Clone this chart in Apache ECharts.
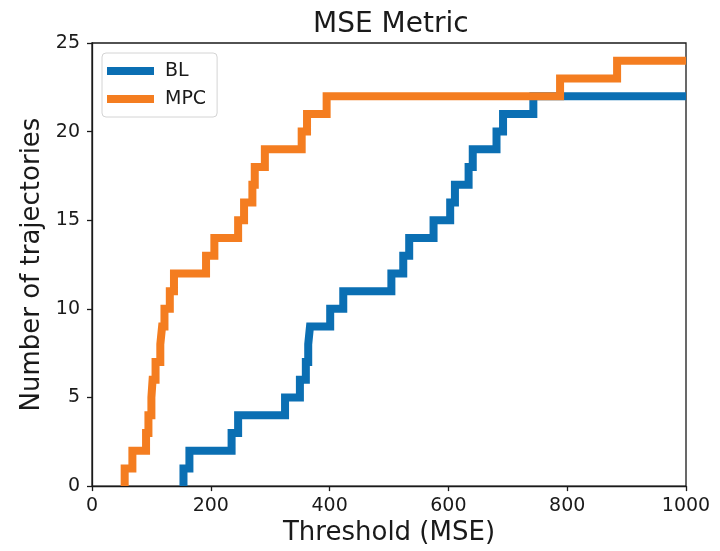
<!DOCTYPE html>
<html>
<head>
<meta charset="utf-8">
<script src="https://cdn.jsdelivr.net/npm/echarts@6/dist/echarts.min.js"></script>
<style>
html,body{margin:0;padding:0;background:#fff;}
#chart{width:720px;height:551px;}
</style>
</head>
<body>
<div id="chart"></div>
<script>
// Threshold (MSE) where each cumulative count is reached
const blThresholds = [154, 154, 164, 235, 246, 325, 350, 360, 364, 367, 401, 423, 504, 524, 534, 575, 603, 611, 634, 641, 681, 692, 743, 1000];
const blCounts     = [0,   1,   2,   3,   4,   5,   6,   7,   8,   9,   10,  11,  12,  13,  14,  15,  16,  17,  18,  19,  20,  21,  22,  22];
const mpcThresholds = [55, 55, 68, 91, 95, 100, 102, 107, 115, 118, 122, 131, 138, 192, 206, 246, 256, 270, 274, 291, 353, 362, 395, 788, 884, 1000];
const mpcCounts     = [0,  1,  2,  3,  4,  5,   6,   7,   8,   9,   10,  11,  12,  13,  14,  15,  16,  17,  18,  19,  20,  21,  22,  23,  24,  24];
const xTicks = [0, 200, 400, 600, 800, 1000];
const yTicks = [0, 5, 10, 15, 20, 25];
const seriesNames = ['BL', 'MPC'];

const pair = (xs, ys) => xs.map((x, i) => [x, ys[i]]);
const FONT = 'DejaVu Sans';
const TXT = '#1a1a1a';
const BLUE = '#0b6fb3';
const ORANGE = '#f47d20';

const chart = echarts.init(document.getElementById('chart'), null, {renderer: 'canvas'});
chart.setOption({
  animation: false,
  backgroundColor: '#fff',
  title: {
    text: 'MSE Metric',
    left: 308, top: 6,
    textStyle: {fontFamily: FONT, fontSize: 28, fontWeight: 'normal', color: TXT}
  },
  grid: {left: 92, right: 34, top: 43, bottom: 64, show: true, borderColor: '#1a1a1a', borderWidth: 1.3, backgroundColor: 'transparent'},
  legend: {
    orient: 'vertical', left: 102, top: 53,
    data: seriesNames,
    selectedMode: false,
    icon: 'rect', itemWidth: 47, itemHeight: 8, itemGap: 8,
    padding: [8, 11, 8, 5],
    backgroundColor: '#fff', borderColor: '#d4d4d4', borderWidth: 1, borderRadius: 4,
    textStyle: {fontFamily: FONT, fontSize: 19, color: TXT, padding: [0, 0, 0, 6], lineHeight: 20}
  },
  xAxis: {
    type: 'value', min: xTicks[0], max: xTicks[xTicks.length - 1], interval: 200,
    name: 'Threshold (MSE)', nameLocation: 'middle', nameGap: 33,
    nameTextStyle: {fontFamily: FONT, fontSize: 26, color: TXT},
    axisLine: {show: true, onZero: false, lineStyle: {color: '#1a1a1a', width: 1.3}},
    axisTick: {show: true, length: 5, lineStyle: {color: '#1a1a1a', width: 1.3}},
    axisLabel: {fontFamily: FONT, fontSize: 19, color: TXT, margin: 10, formatter: v => String(v)},
    splitLine: {show: false}
  },
  yAxis: {
    type: 'value', min: yTicks[0], max: yTicks[yTicks.length - 1], interval: 5,
    name: 'Number of trajectories', nameLocation: 'middle', nameGap: 44,
    nameTextStyle: {fontFamily: FONT, fontSize: 26, color: TXT},
    axisLine: {show: true, onZero: false, lineStyle: {color: '#1a1a1a', width: 1.3}},
    axisTick: {show: true, length: 5, lineStyle: {color: '#1a1a1a', width: 1.3}},
    axisLabel: {fontFamily: FONT, fontSize: 19, color: TXT, margin: 12, formatter: v => String(v)},
    splitLine: {show: false}
  },
  series: [
    {
      name: seriesNames[0], type: 'line', step: 'end', showSymbol: false, symbol: 'none',
      data: pair(blThresholds, blCounts), clip: true,
      itemStyle: {color: BLUE},
      lineStyle: {color: BLUE, width: 8, join: 'miter', cap: 'butt'}
    },
    {
      name: seriesNames[1], type: 'line', step: 'end', showSymbol: false, symbol: 'none',
      data: pair(mpcThresholds, mpcCounts), clip: true,
      itemStyle: {color: ORANGE},
      lineStyle: {color: ORANGE, width: 8, join: 'miter', cap: 'butt'}
    }
  ]
});
</script>
</body>
</html>
